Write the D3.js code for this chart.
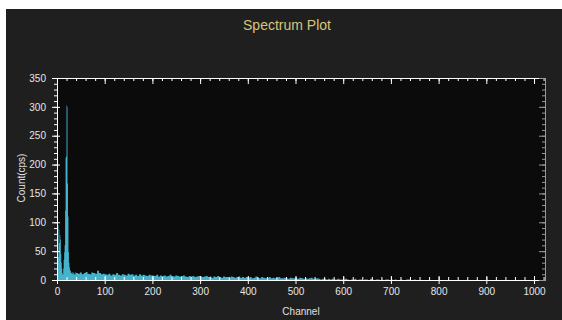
<!DOCTYPE html>
<html>
<head>
<meta charset="utf-8">
<script src="https://cdn.jsdelivr.net/npm/d3@7"></script>
<style>
  body { margin: 0; background: #fff; }
  svg { display: block; font-family: "Liberation Sans", Arial, sans-serif; }
</style>
</head>
<body>
<svg id="chart" width="562" height="320"></svg>
<script>
// channel-by-channel counts for the low-energy peak region (channels 0..39)
const peakCounts = [0, 0, 40, 95, 88, 64, 78, 70, 45, 30, 20, 12, 9, 20, 35, 48, 60, 120, 212, 214,
                    303, 300, 167, 110, 48, 30, 22, 17, 16, 12, 13, 11, 14, 10, 12, 13, 9, 11, 14, 10];
// tail counts, one value per 4-channel bin starting at channel 40
const tailCounts = [
  12, 11, 13, 10, 12, 14, 11, 10, 13, 12, 11, 16, 12, 10, 11,
  10, 9, 11, 8, 10, 9, 12, 9, 8, 10, 9, 8, 11, 9, 10, 8, 9, 7, 10, 8, 9, 8, 7, 9, 8,
  8, 7, 9, 6, 8, 7, 8, 6, 7, 9, 7, 6, 8, 7, 6, 7, 8, 6, 5, 7, 6, 7, 5, 6, 7,
  6, 5, 6, 7, 5, 6, 4, 6, 5, 7, 5, 4, 6, 5, 5, 4, 6, 5, 4, 5, 6, 4, 5, 4, 5,
  4, 5, 3, 4, 6, 4, 3, 5, 4, 3, 4, 5, 3, 4, 3, 4, 5, 3, 3, 4, 3, 2, 4, 3, 3,
  3, 2, 4, 3, 2, 3, 2, 3, 4, 2, 2, 3, 2, 1, 2, 2, 1, 2, 1, 2, 1, 1, 2, 1, 1,
  1, 2, 1, 0, 1, 1, 2, 0, 1, 1, 0, 1, 1, 0, 2, 1, 0, 1, 1, 0, 1, 0, 1, 1, 0,
  1, 0, 1, 0, 0, 1, 0, 0, 1, 1, 0, 0, 1, 0, 0, 0, 0, 0, 0, 0, 0, 0, 0, 0, 0
];
const xTicks = [0, 100, 200, 300, 400, 500, 600, 700, 800, 900, 1000];
const yTicks = [0, 50, 100, 150, 200, 250, 300, 350];

const title = "Spectrum Plot";
const xLabel = "Channel";
const yLabel = "Count(cps)";

// build points: {ch, v}
const points = [];
peakCounts.forEach((v, i) => points.push({ ch: i, v: v }));
tailCounts.forEach((v, i) => points.push({ ch: 40 + i * 4, v: v }));
points.push({ ch: 40 + tailCounts.length * 4, v: 0 });

const svg = d3.select("#chart");
const plot = { left: 57, right: 545, top: 78, bottom: 280 };

// panel background
svg.append("rect").attr("x", 6).attr("y", 9).attr("width", 556).attr("height", 311)
  .attr("fill", "#1f1f1f");

const x = d3.scaleLinear().domain([0, 1023]).range([plot.left, plot.right]);
const y = d3.scaleLinear().domain([0, 350]).range([plot.bottom, plot.top]);

svg.append("rect")
  .attr("x", plot.left).attr("y", plot.top)
  .attr("width", plot.right - plot.left).attr("height", plot.bottom - plot.top)
  .attr("fill", "#0b0b0b");

// spectrum
const area = d3.area()
  .x(d => x(d.ch))
  .y0(y(0))
  .y1(d => y(d.v))
  .curve(d3.curveStepAfter);

svg.append("path")
  .datum(points)
  .attr("d", area)
  .attr("fill", "#45b3cb");

// title and labels
svg.append("text").attr("x", 287).attr("y", 30).attr("text-anchor", "middle")
  .attr("fill", "#d8c47c").style("font-size", "14px").text(title);

svg.append("text").attr("x", 301).attr("y", 315).attr("text-anchor", "middle")
  .attr("fill", "#e0e0e0").style("font-size", "10px").text(xLabel);

svg.append("text").attr("transform", "translate(25,178) rotate(-90)")
  .attr("text-anchor", "middle")
  .attr("fill", "#e0e0e0").style("font-size", "10px").text(yLabel);

function styleAxis(g, color) {
  g.select(".domain").attr("stroke", color);
  g.selectAll(".tick line").attr("stroke", color);
  g.selectAll(".tick text").attr("fill", "#e6e6e6").style("font-size", "10px")
    .style("font-family", "'Liberation Sans', Arial, sans-serif");
}

const xMinor = d3.range(0, 1024, 20);
const yMinor = d3.range(0, 351, 10);

// bottom axis: minor ticks pointing in, majors crossing
svg.append("g").attr("transform", `translate(0,${plot.bottom})`)
  .call(d3.axisTop(x).tickValues(xMinor).tickSize(3).tickFormat("").tickSizeOuter(0))
  .call(g => styleAxis(g, "#ffffff"));
svg.append("g").attr("transform", `translate(0,${plot.bottom})`)
  .call(d3.axisBottom(x).tickValues(xTicks).tickFormat(d3.format("d"))
    .tickSize(4).tickPadding(4).tickSizeOuter(0))
  .call(g => styleAxis(g, "#ffffff"))
  .call(g => g.selectAll(".tick line").attr("y1", -4));

// left axis
svg.append("g").attr("transform", `translate(${plot.left},0)`)
  .call(d3.axisLeft(y).tickValues(yMinor).tickSize(3).tickFormat("").tickSizeOuter(0))
  .call(g => styleAxis(g, "#ffffff"));
svg.append("g").attr("transform", `translate(${plot.left},0)`)
  .call(d3.axisLeft(y).tickValues(yTicks).tickSize(5).tickPadding(6).tickSizeOuter(0))
  .call(g => styleAxis(g, "#ffffff"))
  .call(g => g.selectAll(".tick line").attr("x1", 3));

// top axis (mirror, ticks inward)
svg.append("g").attr("transform", `translate(0,${plot.top})`)
  .call(d3.axisBottom(x).tickValues(xMinor).tickSize(3).tickFormat("").tickSizeOuter(0))
  .call(g => styleAxis(g, "#ffffff"));
svg.append("g").attr("transform", `translate(0,${plot.top})`)
  .call(d3.axisBottom(x).tickValues(xTicks).tickSize(6).tickFormat("").tickSizeOuter(0))
  .call(g => styleAxis(g, "#ffffff"));

// right axis (mirror, ticks inward)
svg.append("g").attr("transform", `translate(${plot.right},0)`)
  .call(d3.axisLeft(y).tickValues(yMinor).tickSize(3).tickFormat("").tickSizeOuter(0))
  .call(g => styleAxis(g, "#9a9a9a"));
svg.append("g").attr("transform", `translate(${plot.right},0)`)
  .call(d3.axisLeft(y).tickValues(yTicks).tickSize(6).tickFormat("").tickSizeOuter(0))
  .call(g => styleAxis(g, "#9a9a9a"));
</script>
</body>
</html>
